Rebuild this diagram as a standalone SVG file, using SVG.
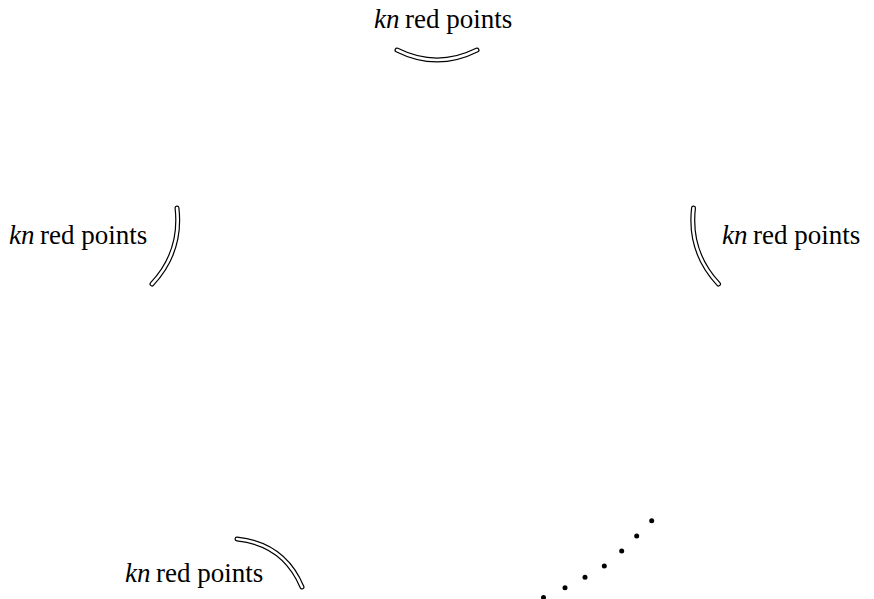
<svg xmlns="http://www.w3.org/2000/svg" width="874" height="599" viewBox="0 0 874 599">
<defs>
<path id="arcTop" d="M397,50 Q437,70 477,50"/>
<path id="arcLeft" d="M177,208 Q182,252 152,284"/>
<path id="arcRight" d="M693.5,208 Q688.5,252 718.5,284"/>
<path id="arcBL" d="M237,539 Q284,544 302,587"/>
</defs>
<rect width="874" height="599" fill="#fff"/>
<g id="group-top">
<text x="374" y="28" font-family="Liberation Serif, serif" font-size="27" font-style="italic">kn</text>
<text x="405" y="28" font-family="Liberation Serif, serif" font-size="27">red points</text>
<g fill="none" stroke-linecap="round"><use href="#arcTop" stroke="#000" stroke-width="5"/><use href="#arcTop" stroke="#fff" stroke-width="2.6"/></g>
</g>
<g id="group-left">
<text x="9" y="244" font-family="Liberation Serif, serif" font-size="27" font-style="italic">kn</text>
<text x="40" y="244" font-family="Liberation Serif, serif" font-size="27">red points</text>
<g fill="none" stroke-linecap="round"><use href="#arcLeft" stroke="#000" stroke-width="5"/><use href="#arcLeft" stroke="#fff" stroke-width="2.6"/></g>
</g>
<g id="group-right">
<text x="722" y="244" font-family="Liberation Serif, serif" font-size="27" font-style="italic">kn</text>
<text x="753" y="244" font-family="Liberation Serif, serif" font-size="27">red points</text>
<g fill="none" stroke-linecap="round"><use href="#arcRight" stroke="#000" stroke-width="5"/><use href="#arcRight" stroke="#fff" stroke-width="2.6"/></g>
</g>
<g id="group-bottom-left">
<text x="125" y="582" font-family="Liberation Serif, serif" font-size="27" font-style="italic">kn</text>
<text x="156" y="582" font-family="Liberation Serif, serif" font-size="27">red points</text>
<g fill="none" stroke-linecap="round"><use href="#arcBL" stroke="#000" stroke-width="5"/><use href="#arcBL" stroke="#fff" stroke-width="2.6"/></g>
</g>
<g id="dots" fill="#000">
<circle cx="543.5" cy="597.5" r="2.5"/>
<circle cx="565" cy="587.7" r="2.5"/>
<circle cx="585" cy="577.3" r="2.5"/>
<circle cx="604.3" cy="566" r="2.5"/>
<circle cx="621.7" cy="551" r="2.5"/>
<circle cx="636.7" cy="536" r="2.5"/>
<circle cx="651.7" cy="520.7" r="2.5"/>
</g>
<g id="connectors"></g>
</svg>
